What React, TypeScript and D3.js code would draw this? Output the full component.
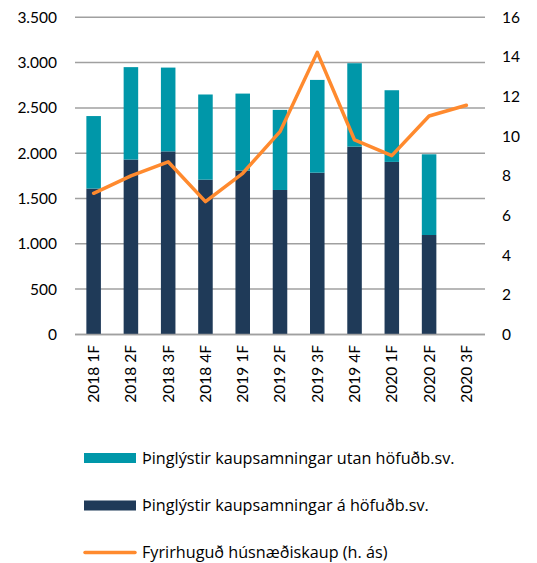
import React from "react";
import * as d3 from "d3";

const categories = ["2018 1F","2018 2F","2018 3F","2018 4F","2019 1F","2019 2F","2019 3F","2019 4F","2020 1F","2020 2F","2020 3F"];
const capital = [1610, 1930, 2020, 1708, 1808, 1594, 1785, 2073, 1904, 1097, null];
const outside = [800, 1020, 925, 940, 850, 884, 1024, 920, 791, 891, null];
const planned = [7.12, 8.0, 8.71, 6.7, 8.13, 10.23, 14.23, 9.81, 9.02, 11.02, 11.56];
const leftTicks = [0, 500, 1000, 1500, 2000, 2500, 3000, 3500];
const rightTicks = [0, 2, 4, 6, 8, 10, 12, 14, 16];
const legendLabels = [
  "Þinglýstir kaupsamningar utan höfuðb.sv.",
  "Þinglýstir kaupsamningar á höfuðb.sv.",
  "Fyrirhuguð húsnæðiskaup (h. ás)",
];

const W = 537, H = 563;
const left = 75, right = 485, top = 17.3, bottom = 334.4;
const TEAL = "#0097A9";
const NAVY = "#1F3A58";
const ORANGE = "#FF8A2E";
const GRID = "#A0A0A0";
const FONT = "Lato, 'Open Sans', sans-serif";
const LEGEND_FONT = "'Open Sans', sans-serif";

export default function App() {
  const x = d3.scaleBand<string>().domain(categories).range([left, right]).paddingInner(0.61).paddingOuter(0.305);
  const yL = d3.scaleLinear().domain([0, 3500]).range([bottom, top]);
  const yR = d3.scaleLinear().domain([0, 16]).range([bottom, top]);
  const line = d3.line<number>().x((_, i) => (x(categories[i]) as number) + x.bandwidth() / 2).y((d) => yR(d));
  const fmt = (v: number) => d3.format(",")(v).replace(/,/g, ".");

  return (
    <div style={{ position: "absolute", left: 0, top: 0 }}>
      <svg width={W} height={H} style={{ display: "block", fontFamily: FONT }}>
        {leftTicks.map((t) => (
          <line key={t} x1={left} x2={right} y1={yL(t)} y2={yL(t)} stroke={GRID} strokeWidth={1.5} />
        ))}
        {categories.map((c, i) => {
          const cap = capital[i];
          const out = outside[i];
          if (cap == null || out == null) return null;
          const bx = x(c) as number;
          return (
            <g key={c}>
              <rect x={bx} width={x.bandwidth()} y={yL(cap)} height={yL(0) - yL(cap)} fill={NAVY} />
              <rect x={bx} width={x.bandwidth()} y={yL(cap + out)} height={yL(cap) - yL(cap + out)} fill={TEAL} />
            </g>
          );
        })}
        <line x1={left} x2={right} y1={bottom} y2={bottom} stroke={GRID} strokeWidth={1.5} />
        <path d={line(planned) as string} fill="none" stroke={ORANGE} strokeWidth={3.5} strokeLinejoin="round" strokeLinecap="round" />
        {leftTicks.map((t) => (
          <text key={t} x={57} y={yL(t)} dy="0.35em" textAnchor="end" fontSize={15.5} fill="#000">{fmt(t)}</text>
        ))}
        {rightTicks.map((t) => (
          <text key={t} x={502} y={yR(t)} dy="0.35em" textAnchor="start" fontSize={15.5} fill="#000">{t}</text>
        ))}
        {categories.map((c) => {
          const cx = (x(c) as number) + x.bandwidth() / 2;
          return (
            <text key={c} transform={`translate(${cx},${345}) rotate(-90)`} textAnchor="end" dy="0.35em" fontSize={15.5} fill="#000">{c}</text>
          );
        })}
        <g fontFamily={LEGEND_FONT} fontSize={16.2} fill="#000">
          <rect x={84} y={453} width={52} height={10} fill={TEAL} />
          <text x={142} y={458} dy="0.35em">{legendLabels[0]}</text>
          <rect x={84} y={500.5} width={52} height={10} fill={NAVY} />
          <text x={142} y={505.5} dy="0.35em">{legendLabels[1]}</text>
          <line x1={85} x2={135} y1={552.5} y2={552.5} stroke={ORANGE} strokeWidth={3.5} strokeLinecap="round" />
          <text x={142} y={552.5} dy="0.35em">{legendLabels[2]}</text>
        </g>
      </svg>
    </div>
  );
}
